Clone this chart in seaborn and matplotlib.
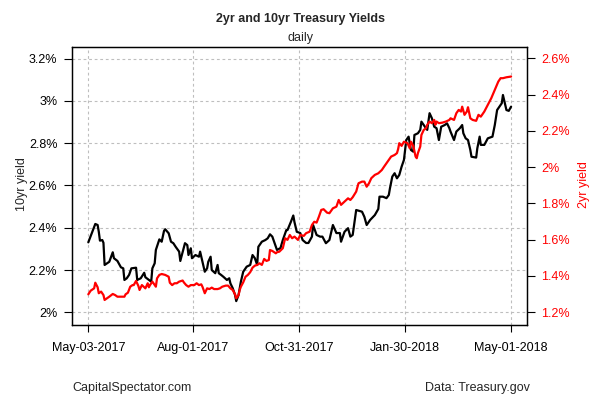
import pandas as pd
import matplotlib
matplotlib.use('Agg')
import matplotlib.pyplot as plt
from matplotlib.ticker import FixedLocator, FuncFormatter
import seaborn as sns

# 10yr yield (black, left axis)
dates_10y = ['2017-05-03', '2017-05-06', '2017-05-09', '2017-05-11', '2017-05-12', '2017-05-13',
             '2017-05-15', '2017-05-16', '2017-05-17', '2017-05-21', '2017-05-24', '2017-05-25',
             '2017-05-28', '2017-05-31', '2017-06-02', '2017-06-03', '2017-06-05', '2017-06-07',
             '2017-06-09', '2017-06-13', '2017-06-14', '2017-06-17', '2017-06-20', '2017-06-21',
             '2017-06-24', '2017-06-26', '2017-06-27', '2017-06-29', '2017-06-30', '2017-07-03',
             '2017-07-05', '2017-07-07', '2017-07-08', '2017-07-11', '2017-07-13', '2017-07-15',
             '2017-07-17', '2017-07-20', '2017-07-21', '2017-07-23', '2017-07-25', '2017-07-27',
             '2017-07-28', '2017-07-30', '2017-07-31', '2017-08-03', '2017-08-06', '2017-08-07',
             '2017-08-09', '2017-08-11', '2017-08-13', '2017-08-14', '2017-08-16', '2017-08-17',
             '2017-08-20', '2017-08-22', '2017-08-23', '2017-08-25', '2017-08-27', '2017-08-30',
             '2017-09-01', '2017-09-02', '2017-09-04', '2017-09-06', '2017-09-07', '2017-09-09',
             '2017-09-11', '2017-09-13', '2017-09-16', '2017-09-19', '2017-09-21', '2017-09-23',
             '2017-09-25', '2017-09-26', '2017-09-29', '2017-10-02', '2017-10-04', '2017-10-06',
             '2017-10-08', '2017-10-10', '2017-10-12', '2017-10-15', '2017-10-17', '2017-10-20',
             '2017-10-21', '2017-10-24', '2017-10-26', '2017-10-27', '2017-10-29', '2017-11-01',
             '2017-11-03', '2017-11-06', '2017-11-08', '2017-11-11', '2017-11-12', '2017-11-15',
             '2017-11-18', '2017-11-20', '2017-11-23', '2017-11-25', '2017-11-26', '2017-11-29',
             '2017-12-02', '2017-12-05', '2017-12-06', '2017-12-09', '2017-12-12', '2017-12-14',
             '2017-12-16', '2017-12-19', '2017-12-24', '2017-12-26', '2017-12-28', '2017-12-31',
             '2018-01-04', '2018-01-07', '2018-01-08', '2018-01-11', '2018-01-14', '2018-01-16',
             '2018-01-17', '2018-01-19', '2018-01-21', '2018-01-23', '2018-01-25', '2018-01-27',
             '2018-01-29', '2018-01-31', '2018-02-02', '2018-02-04', '2018-02-06', '2018-02-07',
             '2018-02-10', '2018-02-12', '2018-02-13', '2018-02-16', '2018-02-18', '2018-02-20',
             '2018-02-22', '2018-02-24', '2018-02-26', '2018-02-28', '2018-03-02', '2018-03-05',
             '2018-03-07', '2018-03-09', '2018-03-10', '2018-03-13', '2018-03-15', '2018-03-18',
             '2018-03-20', '2018-03-21', '2018-03-23', '2018-03-25', '2018-03-27', '2018-03-28',
             '2018-04-01', '2018-04-02', '2018-04-04', '2018-04-05', '2018-04-08', '2018-04-11',
             '2018-04-15', '2018-04-17', '2018-04-19', '2018-04-21', '2018-04-23', '2018-04-24',
             '2018-04-25', '2018-04-27', '2018-04-29', '2018-05-01']
yield_10y = [2.331, 2.375, 2.418, 2.413, 2.381, 2.339,
             2.342, 2.329, 2.224, 2.239, 2.284, 2.256,
             2.243, 2.213, 2.208, 2.153, 2.161, 2.177,
             2.208, 2.211, 2.153, 2.161, 2.187, 2.166,
             2.153, 2.145, 2.208, 2.232, 2.295, 2.345,
             2.334, 2.385, 2.393, 2.374, 2.334, 2.327,
             2.310, 2.287, 2.243, 2.285, 2.327, 2.318,
             2.271, 2.303, 2.256, 2.271, 2.263, 2.287,
             2.239, 2.192, 2.208, 2.239, 2.263, 2.200,
             2.185, 2.224, 2.185, 2.177, 2.168, 2.153,
             2.161, 2.137, 2.114, 2.082, 2.053, 2.082,
             2.145, 2.192, 2.216, 2.224, 2.271, 2.256,
             2.224, 2.310, 2.334, 2.342, 2.350, 2.369,
             2.358, 2.327, 2.295, 2.304, 2.342, 2.389,
             2.389, 2.429, 2.458, 2.427, 2.381, 2.375,
             2.342, 2.328, 2.328, 2.358, 2.413, 2.366,
             2.358, 2.358, 2.327, 2.337, 2.342, 2.413,
             2.375, 2.375, 2.334, 2.381, 2.398, 2.358,
             2.366, 2.484, 2.476, 2.452, 2.413, 2.437,
             2.460, 2.489, 2.547, 2.547, 2.540, 2.555,
             2.587, 2.642, 2.658, 2.634, 2.650, 2.689,
             2.721, 2.815, 2.831, 2.768, 2.760, 2.839,
             2.847, 2.863, 2.902, 2.878, 2.863, 2.942,
             2.918, 2.878, 2.871, 2.815, 2.878, 2.886,
             2.894, 2.871, 2.855, 2.815, 2.855, 2.871,
             2.886, 2.847, 2.823, 2.815, 2.768, 2.736,
             2.732, 2.776, 2.831, 2.792, 2.792, 2.823,
             2.831, 2.886, 2.957, 2.973, 2.989, 3.028,
             3.005, 2.957, 2.953, 2.973]

# 2yr yield (red, right axis)
dates_2y = ['2017-05-03', '2017-05-05', '2017-05-08', '2017-05-09', '2017-05-11', '2017-05-12',
            '2017-05-14', '2017-05-16', '2017-05-17', '2017-05-19', '2017-05-21', '2017-05-24',
            '2017-05-26', '2017-05-28', '2017-05-30', '2017-06-03', '2017-06-04', '2017-06-06',
            '2017-06-08', '2017-06-10', '2017-06-11', '2017-06-13', '2017-06-15', '2017-06-16',
            '2017-06-18', '2017-06-21', '2017-06-23', '2017-06-24', '2017-06-25', '2017-06-27',
            '2017-06-30', '2017-07-01', '2017-07-03', '2017-07-05', '2017-07-08', '2017-07-11',
            '2017-07-12', '2017-07-14', '2017-07-16', '2017-07-18', '2017-07-20', '2017-07-23',
            '2017-07-24', '2017-07-26', '2017-07-28', '2017-07-30', '2017-08-02', '2017-08-04',
            '2017-08-06', '2017-08-08', '2017-08-09', '2017-08-11', '2017-08-13', '2017-08-15',
            '2017-08-17', '2017-08-19', '2017-08-22', '2017-08-24', '2017-08-26', '2017-08-29',
            '2017-08-31', '2017-09-02', '2017-09-04', '2017-09-06', '2017-09-07', '2017-09-09',
            '2017-09-10', '2017-09-11', '2017-09-13', '2017-09-15', '2017-09-17', '2017-09-19',
            '2017-09-21', '2017-09-23', '2017-09-25', '2017-09-27', '2017-09-29', '2017-10-01',
            '2017-10-03', '2017-10-05', '2017-10-06', '2017-10-08', '2017-10-11', '2017-10-12',
            '2017-10-14', '2017-10-17', '2017-10-19', '2017-10-21', '2017-10-23', '2017-10-25',
            '2017-10-27', '2017-10-30', '2017-11-01', '2017-11-04', '2017-11-06', '2017-11-09',
            '2017-11-11', '2017-11-13', '2017-11-15', '2017-11-17', '2017-11-19', '2017-11-21',
            '2017-11-24', '2017-11-26', '2017-11-29', '2017-12-02', '2017-12-04', '2017-12-06',
            '2017-12-09', '2017-12-12', '2017-12-14', '2017-12-16', '2017-12-19', '2017-12-21',
            '2017-12-24', '2017-12-26', '2017-12-28', '2017-12-30', '2018-01-01', '2018-01-04',
            '2018-01-07', '2018-01-10', '2018-01-12', '2018-01-15', '2018-01-18', '2018-01-21',
            '2018-01-23', '2018-01-24', '2018-01-25', '2018-01-27', '2018-01-29', '2018-02-01',
            '2018-02-03', '2018-02-04', '2018-02-06', '2018-02-08', '2018-02-09', '2018-02-10',
            '2018-02-12', '2018-02-13', '2018-02-15', '2018-02-17', '2018-02-18', '2018-02-20',
            '2018-02-22', '2018-02-24', '2018-02-25', '2018-02-26', '2018-02-28', '2018-03-03',
            '2018-03-06', '2018-03-09', '2018-03-10', '2018-03-13', '2018-03-15', '2018-03-17',
            '2018-03-19', '2018-03-20', '2018-03-22', '2018-03-24', '2018-03-25', '2018-03-27',
            '2018-03-29', '2018-04-01', '2018-04-03', '2018-04-05', '2018-04-08', '2018-04-11',
            '2018-04-14', '2018-04-17', '2018-04-20', '2018-04-22', '2018-04-24', '2018-04-27',
            '2018-05-01']
yield_2y = [1.299, 1.319, 1.332, 1.363, 1.338, 1.305,
            1.314, 1.295, 1.268, 1.277, 1.286, 1.301,
            1.295, 1.286, 1.286, 1.286, 1.299, 1.308,
            1.341, 1.350, 1.350, 1.373, 1.345, 1.323,
            1.350, 1.332, 1.360, 1.338, 1.350, 1.369,
            1.341, 1.387, 1.406, 1.411, 1.406, 1.396,
            1.363, 1.350, 1.360, 1.360, 1.369, 1.375,
            1.365, 1.350, 1.341, 1.350, 1.350, 1.360,
            1.350, 1.354, 1.341, 1.305, 1.332, 1.328,
            1.336, 1.328, 1.328, 1.332, 1.341, 1.347,
            1.347, 1.332, 1.323, 1.299, 1.277, 1.295,
            1.323, 1.341, 1.365, 1.396, 1.406, 1.421,
            1.446, 1.457, 1.461, 1.470, 1.461, 1.494,
            1.483, 1.488, 1.543, 1.538, 1.525, 1.531,
            1.534, 1.553, 1.608, 1.599, 1.626, 1.608,
            1.617, 1.599, 1.626, 1.621, 1.636, 1.644,
            1.681, 1.699, 1.694, 1.727, 1.764, 1.768,
            1.749, 1.746, 1.773, 1.782, 1.819, 1.792,
            1.810, 1.828, 1.819, 1.834, 1.865, 1.911,
            1.920, 1.920, 1.892, 1.911, 1.939, 1.957,
            1.966, 1.984, 2.003, 2.030, 2.058, 2.067,
            2.077, 2.099, 2.132, 2.117, 2.140, 2.132,
            2.104, 2.140, 2.117, 2.058, 2.049, 2.077,
            2.113, 2.177, 2.205, 2.214, 2.233, 2.251,
            2.242, 2.260, 2.233, 2.251, 2.242, 2.245,
            2.251, 2.260, 2.269, 2.260, 2.297, 2.315,
            2.306, 2.333, 2.288, 2.306, 2.330, 2.269,
            2.260, 2.255, 2.288, 2.278, 2.306, 2.343,
            2.380, 2.425, 2.471, 2.490, 2.490, 2.495,
            2.499]

tick_dates = ['2017-05-03', '2017-08-01', '2017-10-31', '2018-01-30', '2018-05-01']
tick_labels = ['May-03-2017', 'Aug-01-2017', 'Oct-31-2017', 'Jan-30-2018', 'May-01-2018']
ticks_10y = [2.0, 2.2, 2.4, 2.6, 2.8, 3.0, 3.2]
ticks_2y = [1.2, 1.4, 1.6, 1.8, 2.0, 2.2, 2.4, 2.6]

sns.set_style('ticks')
plt.rcParams['font.family'] = ['Liberation Sans', 'DejaVu Sans']

df10 = pd.DataFrame({'date': pd.to_datetime(dates_10y), 'yield': yield_10y})
df2 = pd.DataFrame({'date': pd.to_datetime(dates_2y), 'yield': yield_2y})

fig = plt.figure(figsize=(6, 4), dpi=100)
ax = fig.add_axes([0.12, 0.1875, 0.759, 0.696])
ax2 = ax.twinx()

sns.lineplot(data=df10, x='date', y='yield', ax=ax, color='black', lw=1.6)
sns.lineplot(data=df2, x='date', y='yield', ax=ax2, color='red', lw=1.6)

ax.set_xlim(pd.Timestamp('2017-04-19'), pd.Timestamp('2018-05-15'))
ax.set_ylim(1.940, 3.257)
ax2.set_ylim(1.130, 2.664)

pct = FuncFormatter(lambda v, p: f'{v:g}%')
ax.set_xticks(pd.to_datetime(tick_dates))
ax.set_xticklabels(tick_labels)
ax.yaxis.set_major_locator(FixedLocator(ticks_10y))
ax.yaxis.set_major_formatter(pct)
ax2.yaxis.set_major_locator(FixedLocator(ticks_2y))
ax2.yaxis.set_major_formatter(pct)

ax.grid(True, color='#bebebe', linestyle=(0, (2.5, 2.5)), lw=0.8)
ax.set_xlabel('')
ax.set_ylabel('')
ax2.set_ylabel('')

for a in (ax, ax2):
    for s in a.spines.values():
        s.set_visible(True)
        s.set_color('black')
        s.set_linewidth(0.9)

ax.tick_params(axis='y', direction='out', length=6, width=0.8, colors='black', labelsize=9, pad=4.5)
ax.tick_params(axis='x', direction='out', length=5.3, width=0.8, colors='black', labelsize=9, pad=7)
ax2.tick_params(axis='y', direction='out', length=6, width=0.8, color='black',
                labelcolor='red', labelsize=9, pad=4)

fig.text(0.5, 1 - 19 / 400, '2yr and 10yr Treasury Yields', ha='center', va='center',
         fontsize=9, fontweight='bold')
fig.text(0.5, 1 - 38 / 400, 'daily', ha='center', va='center', fontsize=9)
fig.text(21.5 / 600, 1 - 184 / 400, '10yr yield', rotation=90, ha='center', va='center', fontsize=9)
fig.text(584 / 600, 1 - 185 / 400, '2yr yield', rotation=90, ha='center', va='center',
         fontsize=9, color='red')
fig.text(72 / 600, 1 - 388 / 400, 'CapitalSpectator.com', ha='left', va='center', fontsize=9)
fig.text(530 / 600, 1 - 388 / 400, 'Data: Treasury.gov', ha='right', va='center', fontsize=9)

fig.savefig('out.png', dpi=100)
